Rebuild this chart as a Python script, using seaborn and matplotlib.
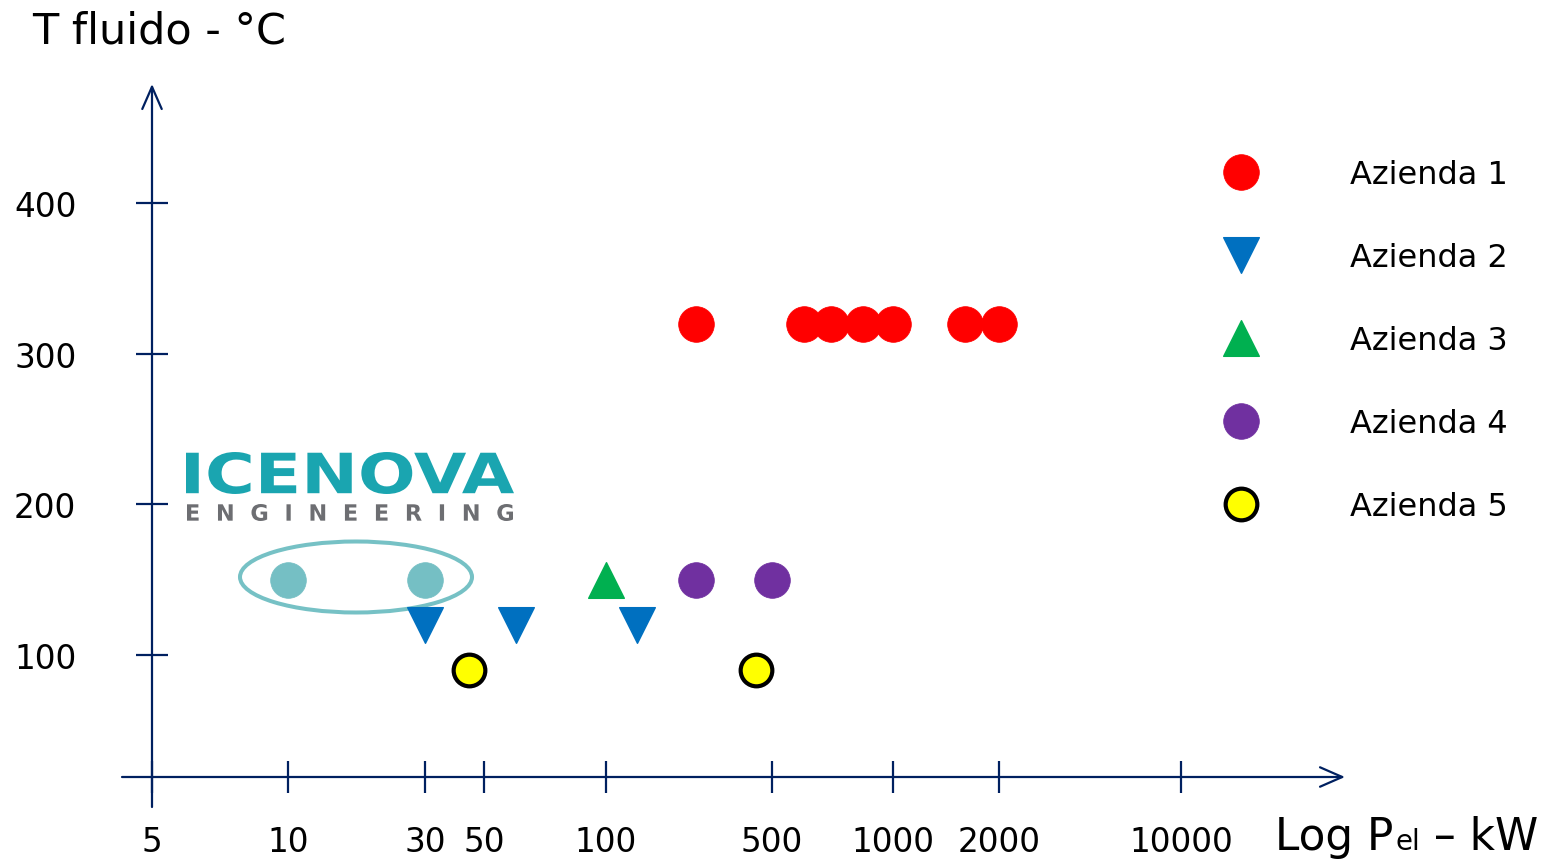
import numpy as np
import matplotlib
matplotlib.use("Agg")
import matplotlib.pyplot as plt
import seaborn as sns
from matplotlib.patches import Ellipse, PathPatch
from matplotlib.textpath import TextPath
from matplotlib.font_manager import FontProperties
from matplotlib.transforms import Affine2D

# data (P el in kW, T fluido in degC)
azienda1_kw = [240, 600, 700, 840, 1000, 1600, 2000]
azienda1_t = [320, 320, 320, 320, 320, 320, 320]
azienda2_kw = [30, 60, 135]
azienda2_t = [120, 120, 120]
azienda3_kw = [100]
azienda3_t = [150]
azienda4_kw = [240, 500]
azienda4_t = [150, 150]
azienda5_kw = [44, 430]
azienda5_t = [90, 90]
icenova_kw = [10, 30]
icenova_t = [150, 150]

x_ticks = [5, 10, 30, 50, 100, 500, 1000, 2000, 10000]
y_ticks = [100, 200, 300, 400]

# the x axis of the original is a hand made "log" axis: where each tick sits
W, H = 1547, 862
tick_px = [152, 288, 425, 484, 606, 772, 893, 999, 1181]
NAVY = "#002060"


def _extrap(v, xp, fp):
    v = np.asarray(v, dtype=float)
    xp = np.asarray(xp, dtype=float)
    fp = np.asarray(fp, dtype=float)
    out = np.interp(v, xp, fp)
    lo = (fp[1] - fp[0]) / (xp[1] - xp[0])
    hi = (fp[-1] - fp[-2]) / (xp[-1] - xp[-2])
    out = np.where(v < xp[0], fp[0] + (v - xp[0]) * lo, out)
    out = np.where(v > xp[-1], fp[-1] + (v - xp[-1]) * hi, out)
    return out


log_ticks = np.log10(x_ticks)


def fwd(x):
    return _extrap(np.log10(np.clip(np.asarray(x, dtype=float), 1e-9, None)), log_ticks, tick_px)


def inv(p):
    return 10 ** _extrap(p, tick_px, log_ticks)


sns.set_style("white")
plt.rcParams["font.family"] = ["DejaVu Sans"]
plt.rcParams["text.color"] = "black"
plt.rcParams["xtick.color"] = "black"
plt.rcParams["ytick.color"] = "black"

fig = plt.figure(figsize=(W / 100, H / 100), dpi=100)
ax = fig.add_axes([152 / W, (H - 778) / H, (1345 - 152) / W, (778 - 85) / H])
ax.set_xscale("function", functions=(fwd, inv))
ax.set_xlim(5, float(inv(1345)))
ax.set_ylim(19, 479)

S = 660
sns.scatterplot(x=azienda1_kw, y=azienda1_t, ax=ax, marker="o", s=S, color="#FF0000",
                edgecolor="#FF0000", linewidth=0.5, label="Azienda 1", zorder=3)
sns.scatterplot(x=azienda2_kw, y=azienda2_t, ax=ax, marker="v", s=S, color="#0070C0",
                edgecolor="#0070C0", linewidth=1, label="Azienda 2", zorder=3)
sns.scatterplot(x=azienda3_kw, y=azienda3_t, ax=ax, marker="^", s=S, color="#00B050",
                edgecolor="#00B050", linewidth=1, label="Azienda 3", zorder=3)
sns.scatterplot(x=azienda4_kw, y=azienda4_t, ax=ax, marker="o", s=S, color="#7030A0",
                edgecolor="#7030A0", linewidth=0.5, label="Azienda 4", zorder=3)
sns.scatterplot(x=azienda5_kw, y=azienda5_t, ax=ax, marker="o", s=520, color="#FFFF00",
                edgecolor="black", linewidth=3, label="Azienda 5", zorder=3)
sns.scatterplot(x=icenova_kw, y=icenova_t, ax=ax, marker="o", s=S, color="#75BFC4",
                edgecolor="#75BFC4", linewidth=0.5, zorder=3)

# axes drawn as arrows
for s in ax.spines.values():
    s.set_visible(False)
arrow = dict(arrowstyle="->,head_length=0.8,head_width=0.35", color=NAVY, lw=1.6,
             mutation_scale=20, shrinkA=0, shrinkB=0)
ax.annotate("", xy=(0, 1), xycoords="axes fraction", xytext=(0, -30 / 693),
            textcoords="axes fraction", arrowprops=arrow)
ax.annotate("", xy=(1, 0), xycoords="axes fraction", xytext=(-30 / 1193, 0),
            textcoords="axes fraction", arrowprops=arrow)

ax.set_xticks(x_ticks, labels=[str(v) for v in x_ticks])
ax.set_xticks([], minor=True)
ax.set_yticks(y_ticks, labels=[str(v) for v in y_ticks])
ax.tick_params(axis="x", bottom=True, direction="inout", length=23, width=1.6, color=NAVY,
               labelcolor="black", labelsize=23.5, pad=23)
ax.tick_params(axis="y", left=True, direction="inout", length=23, width=1.6, color=NAVY,
               labelcolor="black", labelsize=23.5, pad=43)
ax.set_xlabel("")
ax.set_ylabel("")

to_fig = Affine2D().scale(1 / W, 1 / H) + fig.transFigure

# ellipse around the ICENOVA points
ax.add_patch(Ellipse((356, H - 578), 232, 71, fill=False, lw=2.9, edgecolor="#76C1C5",
                     transform=to_fig, zorder=2))


def fit_text(s, x0, y0, x1, y1, color):
    tp = TextPath((0, 0), s, size=100, prop=FontProperties(family="DejaVu Sans", weight="bold"))
    e = tp.get_extents()
    tr = (Affine2D().translate(-e.x0, -e.y0)
          .scale((x1 - x0) / e.width, (y1 - y0) / e.height)
          .translate(x0, H - y1)) + to_fig
    fig.add_artist(PathPatch(tp, transform=tr, facecolor=color, edgecolor="none"))


fit_text("ICENOVA", 186, 453, 514, 495, "#1AA5B0")
fit_text("E  N  G  I  N  E  E  R  I  N  G", 187, 505, 513, 522, "#6D6E72")

# texts
fig.text(32 / W, 1 - 44 / H, "T fluido - °C", fontsize=31, ha="left", va="baseline")
t1 = fig.text(1275 / W, 1 - 850 / H, "Log P", fontsize=31.5, ha="left", va="baseline")
fig.canvas.draw()
r = fig.canvas.get_renderer()
e1 = t1.get_window_extent(r)
t2 = fig.text((e1.x1 + 2) / W, 1 - 850 / H, "el", fontsize=20, ha="left", va="baseline")
e2 = t2.get_window_extent(r)
fig.text(e2.x1 / W, 1 - 850 / H, " – kW", fontsize=31.5, ha="left", va="baseline")

ax.legend(loc="upper left", bbox_to_anchor=(1222 / W, 1 - 160 / H), bbox_transform=fig.transFigure,
          frameon=False, fontsize=23, handlelength=1.2, handletextpad=2.8, labelspacing=1.63,
          borderpad=0, borderaxespad=0, scatteryoffsets=[0.5])

fig.savefig("out.png", dpi=100)
